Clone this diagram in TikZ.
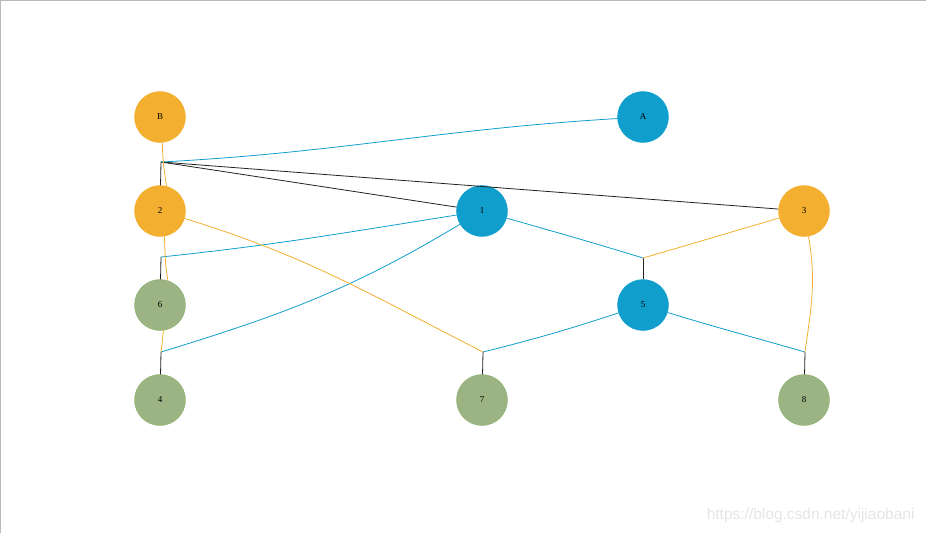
\documentclass[tikz,border=0pt]{standalone}
\usepackage{fontspec}
\setmainfont{Liberation Serif}
\newfontfamily\wmfont{Liberation Sans}
\definecolor{cblue}{RGB}{16,158,204}
\definecolor{corange}{RGB}{243,175,48}
\definecolor{cgreen}{RGB}{156,180,132}
\definecolor{cgreenb}{RGB}{140,176,110}
\definecolor{cblack}{RGB}{34,34,34}
\definecolor{cframe}{RGB}{185,185,185}
\begin{document}
\begin{tikzpicture}[x=1pt,y=-1pt,
  vtx/.style={circle,minimum size=51pt,inner sep=0pt,font=\fontsize{9}{10}\selectfont},
  vblue/.style={vtx,fill=cblue,draw=cblue},
  vorange/.style={vtx,fill=corange,draw=corange},
  vgreen/.style={vtx,fill=cgreen,draw=cgreenb},
  eblue/.style={draw=cblue,line width=0.8pt},
  eorange/.style={draw=corange,line width=0.8pt},
  eblack/.style={draw=cblack,line width=0.8pt}]
\useasboundingbox (0,0) rectangle (926,533);
\draw[cframe,line width=1.2pt] (0,533) -- (0,0.6) -- (926,0.6);
% nodes
\node[vorange] (nB) at (160,117) {B};
\node[vblue]   (nA) at (643,117) {A};
\node[vorange] (n2) at (160,211) {2};
\node[vblue]   (n1) at (482,211) {1};
\node[vorange] (n3) at (804,211) {3};
\node[vgreen]  (n6) at (160,305) {6};
\node[vblue]   (n5) at (643,305) {5};
\node[vgreen]  (n4) at (160,400) {4};
\node[vgreen]  (n7) at (482,400) {7};
\node[vgreen]  (n8) at (804,400) {8};
% junctions
\coordinate (j1) at (161,162);
\coordinate (j2) at (161,257);
\coordinate (j3) at (161,352);
\coordinate (j4) at (643,258);
\coordinate (j5) at (483,352);
\coordinate (j6) at (805,352);
% black stubs
\draw[eblack] (j1) -- (n2);
\draw[eblack] (j2) -- (n6);
\draw[eblack] (j3) -- (n4);
\draw[eblack] (j4) -- (n5);
\draw[eblack] (j5) -- (n7);
\draw[eblack] (j6) -- (n8);
\draw[eblack] (j1) -- (n1);
\draw[eblack] (j1) -- (n3);
% blue edges
\draw[eblue] (j1) to[out=3,in=183.5] (nA);
\draw[eblue] (j2) to[out=6,in=189] (n1);
\draw[eblue] (j3) to[out=17,in=211] (n1);
\draw[eblue] (n1) to[out=-16,in=163] (j4);
\draw[eblue] (n5) to[out=198,in=14] (j5);
\draw[eblue] (n5) to[out=-17,in=164] (j6);
% orange edges
\draw[eorange] (nB.-85) to[out=-88,in=100] (n2.75);
\draw[eorange] (n2.-80) to[out=-88,in=100] (n6.72);
\draw[eorange] (n6.-82) to[out=-100,in=80] (j3);
\draw[eorange] (n2) to[out=-17,in=153] (j5);
\draw[eorange] (n3) to[out=196,in=16] (j4);
\draw[eorange] (n3.-80) to[out=-80,in=82] (j6);
% watermark
\node[text=black!10,font=\wmfont\fontsize{15.5}{17}\selectfont,anchor=east] (wm) at (918,515) {https://blog.csdn.net/yijiaobani};
\end{tikzpicture}
\end{document}
